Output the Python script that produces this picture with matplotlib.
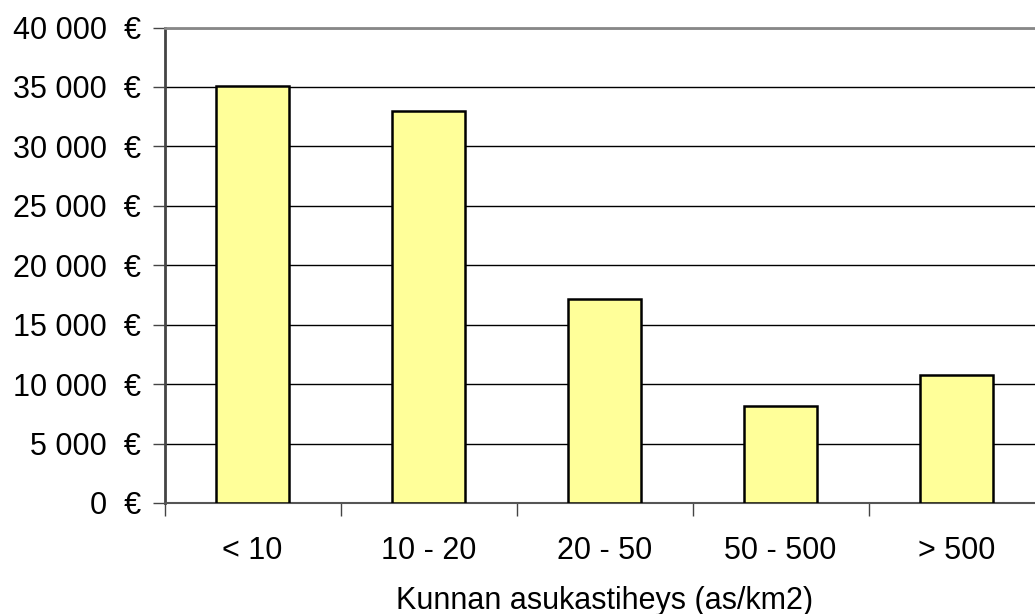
import matplotlib
matplotlib.use("Agg")
import matplotlib.pyplot as plt
from matplotlib.ticker import FuncFormatter, FixedLocator

categories = ["< 10", "10 - 20", "20 - 50", "50 - 500", "> 500"]
values = [35100, 33000, 17200, 8200, 10800]
y_ticks = [0, 5000, 10000, 15000, 20000, 25000, 30000, 35000, 40000]

plt.rcParams["font.family"] = ["Liberation Sans", "DejaVu Sans"]

fig = plt.figure(figsize=(10.35, 6.14), dpi=100)
W, H = 1035, 614
left, right = 164.5, 1044.5
bottom, top = 503, 27.5
ax = fig.add_axes([left / W, 1 - bottom / H, (right - left) / W, (bottom - top) / H])

x = list(range(len(categories)))
ax.bar(x, values, width=0.41, color="#FFFF99", edgecolor="black", linewidth=1.8, zorder=3)

ax.set_xlim(-0.5, len(categories) - 0.5)
ax.set_ylim(0, 40000)

ax.yaxis.set_major_locator(FixedLocator(y_ticks))
ax.yaxis.set_major_formatter(FuncFormatter(lambda v, p: f"{int(v):,}".replace(",", " ") + "  €"))
ax.grid(axis="y", color="black", linewidth=1.0, zorder=0)

ax.set_xticks(x)
ax.set_xticklabels(categories)
ax.xaxis.set_minor_locator(FixedLocator([i - 0.5 for i in range(len(categories) + 1)]))
ax.tick_params(axis="x", which="major", length=0, pad=24, labelsize=22)
ax.tick_params(axis="x", which="minor", length=9, width=1, color="#444444", direction="out")
ax.tick_params(axis="y", length=9, width=1, color="#444444", direction="out", labelsize=22, pad=8)

ax.spines["right"].set_visible(False)
ax.spines["top"].set_color("#888888")
ax.spines["top"].set_linewidth(2)
ax.spines["left"].set_color("#444444")
ax.spines["left"].set_linewidth(2)
ax.spines["bottom"].set_color("#555555")
ax.spines["bottom"].set_linewidth(1.5)

ax.set_xlabel("Kunnan asukastiheys (as/km2)", fontsize=22, labelpad=14)

fig.savefig("out.png", dpi=100)
